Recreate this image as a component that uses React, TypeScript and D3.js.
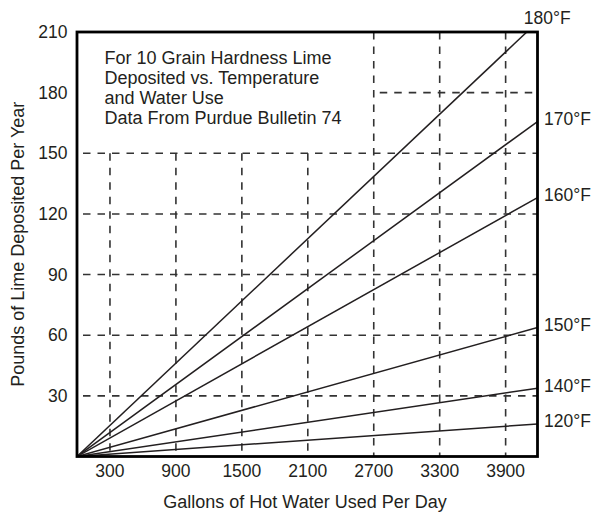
import React from "react";
import * as d3 from "d3";

const temperatures = ["120°F", "140°F", "150°F", "160°F", "170°F", "180°F"];
// pounds of lime per year reached at the right edge (4190 gallons/day); every line starts at 0,0
const poundsAtRightEdge = [16.1, 33.8, 63.8, 128.1, 165.7, 215.0];
const gallonsMax = 4190;
const xTicks = [300, 900, 1500, 2100, 2700, 3300, 3900];
const yTicks = [30, 60, 90, 120, 150, 180, 210];
const verticalGridTop = [150, 150, 150, 150, 210, 210, 210];
const horizontalGridStart = [0, 0, 0, 0, 0, 2700, 0];
const noteLines = [
  "For 10 Grain Hardness Lime",
  "Deposited vs. Temperature",
  "and Water Use",
  "Data From Purdue Bulletin 74",
];
const xTitle = "Gallons of Hot Water Used Per Day";
const yTitle = "Pounds of Lime Deposited Per Year";

const W = 593;
const H = 512;
const M = { left: 77, right: 537.5, top: 32, bottom: 456.5 };
const FONT = "'Liberation Sans', Arial, Helvetica, sans-serif";
const INK = "#231f20";

export default function App() {
  const x = d3.scaleLinear().domain([0, gallonsMax]).range([M.left, M.right]);
  const y = d3.scaleLinear().domain([0, 210]).range([M.bottom, M.top]);
  const line = d3
    .line<[number, number]>()
    .x((d) => x(d[0]))
    .y((d) => y(d[1]));

  return (
    <svg
      width={W}
      height={H}
      style={{ position: "absolute", left: 0, top: 0, display: "block", background: "#fff" }}
      fontFamily={FONT}
    >
      <defs>
        <clipPath id="plot">
          <rect x={M.left} y={M.top} width={M.right - M.left} height={M.bottom - M.top} />
        </clipPath>
      </defs>
      <rect x={0} y={0} width={W} height={H} fill="#fff" />

      {/* grid */}
      <g stroke="#333" strokeWidth={1.6} strokeDasharray="7.5 7" fill="none">
        {yTicks.slice(0, 6).map((t, i) => (
          <line
            key={"h" + t}
            x1={x(horizontalGridStart[i])}
            x2={M.right}
            y1={y(t)}
            y2={y(t)}
            strokeDashoffset={-6}
          />
        ))}
        {xTicks.map((t, i) => (
          <line
            key={"v" + t}
            x1={x(t)}
            x2={x(t)}
            y1={y(verticalGridTop[i])}
            y2={M.bottom}
          />
        ))}
      </g>

      {/* series lines */}
      <g clipPath="url(#plot)" stroke={INK} strokeWidth={1.5} fill="none">
        {poundsAtRightEdge.map((v, i) => (
          <path
            key={temperatures[i]}
            d={line([
              [0, 0],
              [gallonsMax, v],
            ]) as string}
          />
        ))}
      </g>

      {/* frame */}
      <rect
        x={M.left}
        y={M.top}
        width={M.right - M.left}
        height={M.bottom - M.top}
        fill="none"
        stroke="#000"
        strokeWidth={2.8}
      />

      {/* series labels */}
      <g fontSize={17.5} fill={INK}>
        {poundsAtRightEdge.map((v, i) => {
          if (v > 210) {
            const gHit = (210 / v) * gallonsMax;
            return (
              <text key={temperatures[i]} x={x(gHit) - 3} y={y(210) - 14} dominantBaseline="central">
                {temperatures[i]}
              </text>
            );
          }
          return (
            <text key={temperatures[i]} x={M.right + 6.5} y={y(v) - 2.5} dominantBaseline="central">
              {temperatures[i]}
            </text>
          );
        })}
      </g>

      {/* tick labels */}
      <g fontSize={17.5} fill={INK}>
        {xTicks.map((t) => (
          <text key={"xt" + t} x={x(t)} y={M.bottom + 20.5} textAnchor="middle">
            {t}
          </text>
        ))}
        {yTicks.map((t) => (
          <text key={"yt" + t} x={M.left - 9.5} y={y(t)} textAnchor="end" dominantBaseline="central">
            {t}
          </text>
        ))}
      </g>

      {/* axis titles */}
      <text x={305} y={507.5} fontSize={18} fill={INK} textAnchor="middle">
        {xTitle}
      </text>
      <text
        transform={`translate(23.5, ${(M.top + M.bottom) / 2}) rotate(-90)`}
        fontSize={18}
        fill={INK}
        textAnchor="middle"
      >
        {yTitle}
      </text>

      {/* note */}
      <g fontSize={18} fill={INK}>
        {noteLines.map((s, i) => (
          <text key={s} x={104.5} y={63.5 + i * 20.2}>
            {s}
          </text>
        ))}
      </g>
    </svg>
  );
}
